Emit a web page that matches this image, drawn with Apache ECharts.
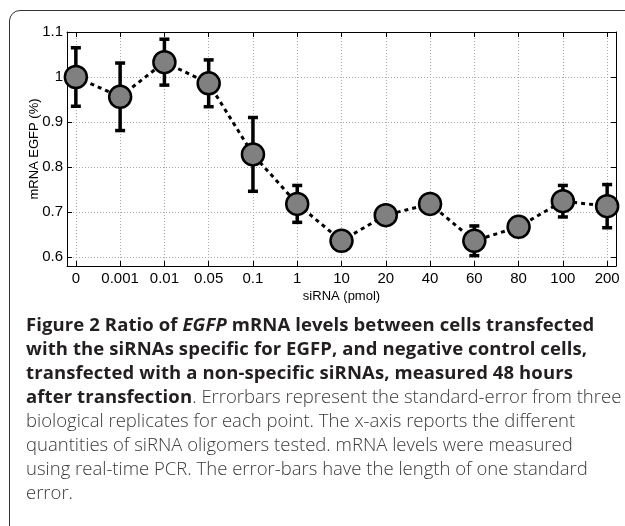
<!DOCTYPE html>
<html>
<head>
<meta charset="utf-8">
<script src="https://cdn.jsdelivr.net/npm/echarts@6/dist/echarts.min.js"></script>
<style>
  html, body { margin: 0; padding: 0; width: 625px; height: 526px; overflow: hidden; background: #fff; }
  #chart { position: absolute; left: 0; top: 0; width: 625px; height: 310px; }
  /* rounded figure frame, runs off the right and bottom edge */
  .frame {
    position: absolute; left: 8.5px; top: 10px; width: 700px; height: 600px;
    border: 1.5px solid #333; border-radius: 11px; box-sizing: border-box;
  }
  .caption {
    position: absolute; left: 26px; top: 312px;
    font-family: 'Open Sans', Lato, sans-serif; font-size: 18.5px; line-height: 24px;
    font-weight: 300; color: #3a3a3a; white-space: nowrap;
  }
  .caption b { font-weight: 700; color: #231f20; letter-spacing: 0.1px; }
</style>
</head>
<body>
<div id="chart"></div>
<div class="frame"></div>
<div class="caption">
  <b>Figure 2 Ratio of <i>EGFP</i> mRNA levels between cells transfected</b><br>
  <b>with the siRNAs specific for EGFP, and negative control cells,</b><br>
  <b>transfected with a non-specific siRNAs, measured 48 hours</b><br>
  <b>after transfection</b>. Errorbars represent the standard-error from three<br>
  biological replicates for each point. The x-axis reports the different<br>
  quantities of siRNA oligomers tested. mRNA levels were measured<br>
  using real-time PCR. The error-bars have the length of one standard<br>
  error.
</div>
<script>
// ---- data ----
const doseLabels = ['0', '0.001', '0.01', '0.05', '0.1', '1', '10', '20', '40', '60', '80', '100', '200']
const ratioMean = [1.0, 0.956, 1.033, 0.986, 0.828, 0.718, 0.636, 0.693, 0.718, 0.636, 0.667, 0.724, 0.713]
const ratioErr = [0.065, 0.075, 0.051, 0.052, 0.082, 0.041, 0.012, 0.012, 0.012, 0.033, 0.012, 0.035, 0.048]
const yTicks = [0.6, 0.7, 0.8, 0.9, 1.0, 1.1]

const FONT = 'Liberation Sans, Arial, sans-serif'
const xTicks = doseLabels.map((_, i) => i)
const points = ratioMean.map((v, i) => [i, v])
const errData = ratioMean.map((v, i) => [i, v - ratioErr[i], v + ratioErr[i]])

const boxLine = { show: true, onZero: false, lineStyle: { color: '#000', width: 1 } }
const gridDots = { show: true, lineStyle: { color: '#a8a8a8', width: 1, type: [1, 2] } }

function errorBar(params, api) {
  const top = api.coord([api.value(0), api.value(2)])
  const bot = api.coord([api.value(0), api.value(1)])
  const hw = 5
  const st = { stroke: '#000', lineWidth: 3.5 }
  return {
    type: 'group',
    children: [
      { type: 'line', shape: { x1: top[0], y1: top[1], x2: bot[0], y2: bot[1] }, style: st },
      { type: 'line', shape: { x1: top[0] - hw, y1: top[1], x2: top[0] + hw, y2: top[1] }, style: st },
      { type: 'line', shape: { x1: bot[0] - hw, y1: bot[1], x2: bot[0] + hw, y2: bot[1] }, style: st },
    ],
  }
}

const chart = echarts.init(document.getElementById('chart'))
chart.setOption({
  backgroundColor: 'transparent',
  animation: false,
  grid: { left: 67, right: 9, top: 32, bottom: 44, outerBoundsMode: 'none' },
  xAxis: [
    {
      type: 'value', min: -0.2, max: 12.2, position: 'bottom',
      axisLine: boxLine,
      axisTick: { inside: true, length: 5, customValues: xTicks, lineStyle: { color: '#000' } },
      axisLabel: {
        customValues: xTicks, formatter: (v) => doseLabels[Math.round(v)],
        color: '#000', fontSize: 15, fontFamily: FONT, margin: 5,
      },
      splitLine: gridDots,
      name: 'siRNA (pmol)', nameLocation: 'middle', nameGap: 24, nameMoveOverlap: false,
      nameTextStyle: { color: '#000', fontSize: 13, fontFamily: FONT },
    },
    {
      type: 'value', min: -0.2, max: 12.2, position: 'top',
      axisLine: boxLine,
      axisTick: { inside: true, length: 5, customValues: xTicks, lineStyle: { color: '#000' } },
      axisLabel: { show: false },
      splitLine: { show: false },
    },
  ],
  yAxis: [
    {
      type: 'value', min: 0.58, max: 1.1, position: 'left',
      axisLine: boxLine,
      axisTick: { inside: true, length: 5, customValues: yTicks, lineStyle: { color: '#000' } },
      axisLabel: {
        customValues: yTicks, formatter: (v) => String(Math.round(v * 10) / 10),
        color: '#000', fontSize: 15, fontFamily: FONT, margin: 4,
      },
      splitLine: gridDots,
      name: 'mRNA EGFP (%)', nameLocation: 'middle', nameGap: 26, nameMoveOverlap: false,
      nameTextStyle: { color: '#000', fontSize: 13, fontFamily: FONT },
    },
    {
      type: 'value', min: 0.58, max: 1.1, position: 'right',
      axisLine: boxLine,
      axisTick: { inside: true, length: 5, customValues: yTicks, lineStyle: { color: '#000' } },
      axisLabel: { show: false },
      splitLine: { show: false },
    },
  ],
  series: [
    {
      name: 'error',
      type: 'custom',
      renderItem: errorBar,
      data: errData,
      z: 2,
    },
    {
      name: 'mRNA EGFP',
      type: 'line',
      data: points,
      symbol: 'circle',
      symbolSize: 22,
      lineStyle: { color: '#000', width: 3, type: [4, 4] },
      itemStyle: { color: '#808080', borderColor: '#000', borderWidth: 2.5 },
      z: 3,
    },
  ],
})
</script>
</body>
</html>
